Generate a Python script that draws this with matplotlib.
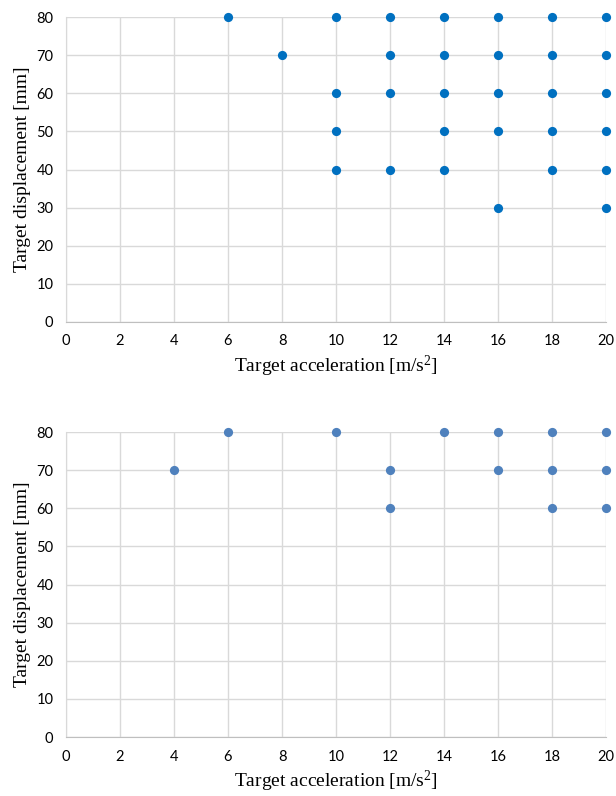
import matplotlib
matplotlib.use("Agg")
import matplotlib.pyplot as plt

# Top chart: successful target points
top_acc = [6, 8,
           10, 10, 10, 10,
           12, 12, 12, 12,
           14, 14, 14, 14, 14,
           16, 16, 16, 16, 16,
           18, 18, 18, 18, 18,
           20, 20, 20, 20, 20, 20]
top_disp = [80, 70,
            80, 60, 50, 40,
            80, 70, 60, 40,
            80, 70, 60, 50, 40,
            80, 70, 60, 50, 30,
            80, 70, 60, 50, 40,
            80, 70, 60, 50, 40, 30]

# Bottom chart
bottom_acc = [4, 6, 10, 12, 12, 14, 16, 16, 18, 18, 18, 20, 20, 20]
bottom_disp = [70, 80, 80, 70, 60, 80, 80, 70, 80, 70, 60, 80, 70, 60]

x_ticks = list(range(0, 21, 2))
y_ticks = list(range(0, 81, 10))

tick_font = "Lato"
label_font = "Liberation Serif"

plt.rcParams["mathtext.fontset"] = "custom"
plt.rcParams["mathtext.rm"] = label_font
plt.rcParams["mathtext.it"] = label_font + ":italic"

fig = plt.figure(figsize=(6.16, 7.96), dpi=100)
ax_top = fig.add_axes([0.107, 0.5955, 0.877, 0.383])
ax_bot = fig.add_axes([0.107, 0.0741, 0.877, 0.383])

for ax, xs, ys, color in [(ax_top, top_acc, top_disp, "#0070C0"),
                          (ax_bot, bottom_acc, bottom_disp, "#4F81BD")]:
    ax.scatter(xs, ys, s=44, color=color, zorder=3, clip_on=False, linewidths=0)
    ax.set_xlim(0, 20)
    ax.set_ylim(0, 80)
    ax.set_xticks(x_ticks)
    ax.set_yticks(y_ticks)
    ax.grid(True, color="#D9D9D9", linewidth=1.0)
    ax.set_axisbelow(True)
    for side in ["top", "right"]:
        ax.spines[side].set_visible(False)
    ax.spines["left"].set_color("#D9D9D9")
    ax.spines["bottom"].set_color("#BFBFBF")
    ax.tick_params(length=0, pad=9, labelsize=10.5, colors="black")
    for lab in ax.get_xticklabels() + ax.get_yticklabels():
        lab.set_fontfamily(tick_font)
    ax.set_xlabel("Target acceleration [m/s$^2$]", fontsize=14,
                  fontfamily=label_font, labelpad=4)
    ax.set_ylabel("Target displacement [mm]", fontsize=14,
                  fontfamily=label_font, labelpad=4)

fig.savefig("out.png", dpi=100)
